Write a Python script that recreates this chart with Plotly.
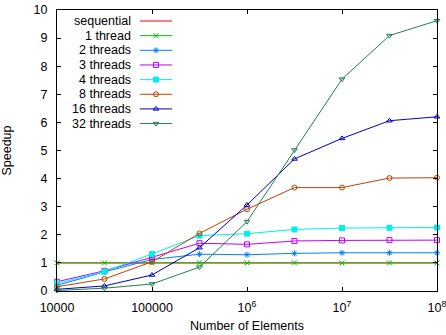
import plotly.graph_objects as go

sizes = [1e4, 3.16e4, 1e5, 3.16e5, 1e6, 3.16e6, 1e7, 3.16e7, 1e8]
sequential = [1, 1, 1, 1, 1, 1, 1, 1, 1]
t1 = [1.0, 1.0, 1.0, 1.0, 1.0, 1.0, 1.0, 1.0, 1.0]
t2 = [0.2, 0.68, 1.12, 1.31, 1.29, 1.34, 1.36, 1.36, 1.36]
t3 = [0.33, 0.72, 1.2, 1.7, 1.66, 1.78, 1.8, 1.81, 1.81]
t4 = [0.27, 0.69, 1.32, 1.97, 2.04, 2.19, 2.24, 2.25, 2.26]
t8 = [0.15, 0.43, 1.04, 2.05, 2.91, 3.68, 3.68, 4.02, 4.03]
t16 = [0.06, 0.18, 0.57, 1.54, 3.06, 4.7, 5.43, 6.06, 6.2]
t32 = [0.02, 0.1, 0.25, 0.85, 2.47, 5.02, 7.54, 9.09, 9.62]

names = ["sequential", "1 thread", "2 threads", "3 threads", "4 threads",
         "8 threads", "16 threads", "32 threads"]
series = [sequential, t1, t2, t3, t4, t8, t16, t32]
colors = ["#ff0000", "#00c000", "#0080ff", "#c000ff", "#00eeee",
          "#c04000", "#0000c0", "#208050"]
symbols = [None, "x-thin-open", "asterisk-open", "square-open", "square",
           "circle-open", "triangle-up-open", "triangle-down-open"]

xticks = [1e4, 1e5, 1e6, 1e7, 1e8]
xticktext = ["10000", "100000", "10<sup>6</sup>", "10<sup>7</sup>", "10<sup>8</sup>"]

W, H = 446, 335
L, R, T, B = 57, 9, 10, 44
pw, ph = W - L - R, H - T - B
MS = 5

fig = go.Figure()
for name, ys, c, s in zip(names, series, colors, symbols):
    if s is None:
        fig.add_trace(go.Scatter(x=sizes, y=ys, mode="lines", line=dict(color=c, width=1),
                                 showlegend=False, cliponaxis=False))
    else:
        fig.add_trace(go.Scatter(x=sizes, y=ys, mode="lines+markers",
                                 line=dict(color=c, width=1),
                                 marker=dict(symbol=s, size=MS, color=c, line=dict(color=c, width=1)),
                                 showlegend=False, cliponaxis=False))

# manual gnuplot-style legend (text right-aligned, sample to the right)
row0, dy = 21, 14.65
x_text = (133 - L) / pw
x_l0, x_l1, x_m = (140 - L) / pw, (172 - L) / pw, (156 - L) / pw
for i, (name, c, s) in enumerate(zip(names, colors, symbols)):
    yp = (H - B - (row0 + i * dy)) / ph
    fig.add_trace(go.Scatter(x=[x_l0, x_l1], y=[yp, yp], mode="lines", line=dict(color=c, width=1),
                             xaxis="x2", yaxis="y2", showlegend=False, hoverinfo="skip"))
    if s is not None:
        fig.add_trace(go.Scatter(x=[x_m], y=[yp], mode="markers",
                                 marker=dict(symbol=s, size=MS, color=c, line=dict(color=c, width=1)),
                                 xaxis="x2", yaxis="y2", showlegend=False, hoverinfo="skip"))
    fig.add_annotation(x=x_text, y=yp, xref="paper", yref="paper", text=name, showarrow=False,
                       xanchor="right", yanchor="middle", font=dict(size=12.5, color="black"))

fig.update_layout(
    width=W, height=H,
    margin=dict(l=L, r=R, t=T, b=B),
    paper_bgcolor="white", plot_bgcolor="white",
    font=dict(family="Liberation Sans, Arial, sans-serif", size=12.5, color="black"),
    xaxis=dict(type="log", range=[4, 8], tickvals=xticks, ticktext=xticktext,
               ticks="inside", ticklen=4, tickcolor="black", showline=True, linecolor="black",
               linewidth=1, mirror="allticks", showgrid=False, zeroline=False,
               ticklabelstandoff=5, automargin=False, ticklabeloverflow="allow",
               title=dict(text="Number of Elements", standoff=7, font=dict(size=12.5))),
    yaxis=dict(range=[0, 10], dtick=1, ticks="inside", ticklen=4, tickcolor="black",
               showline=True, linecolor="black", linewidth=1, mirror="allticks",
               showgrid=False, zeroline=False, ticklabelstandoff=6, automargin=False,
               title=dict(text="Speedup", standoff=19, font=dict(size=12.5))),
    xaxis2=dict(range=[0, 1], overlaying="x", visible=False, fixedrange=True),
    yaxis2=dict(range=[0, 1], overlaying="y", visible=False, fixedrange=True),
)

fig.write_html("out.html", config={"displayModeBar": False},
               post_script="document.body.style.margin='0';document.body.style.overflow='hidden';")
